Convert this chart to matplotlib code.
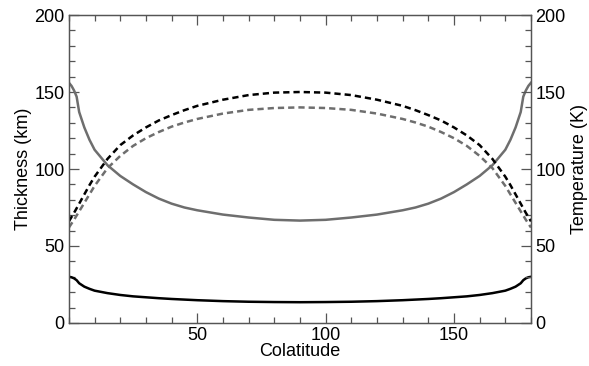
import matplotlib
matplotlib.use('Agg')
import matplotlib.pyplot as plt
from matplotlib.ticker import MultipleLocator

plt.rcParams['font.family'] = ['Liberation Sans', 'DejaVu Sans']

# colatitude samples (deg)
colat = [0, 1, 2, 3, 4, 6, 8, 10, 15, 20, 25, 30, 35, 40, 45, 50, 60, 70, 80, 90,
         100, 110, 120, 130, 135, 140, 145, 150, 155, 160, 165, 170, 172, 174, 176, 177, 178, 179, 180]

# thickness (km)
thick_gray = [156, 154, 151, 147, 137, 127, 119, 112.5, 102.5, 95.5, 90, 85, 80.8, 77.5, 75, 73.2, 70.4, 68.5, 67, 66.5,
              67, 68.5, 70.4, 73.2, 75, 77.5, 80.8, 85, 90, 95.5, 102.5, 112.5, 119, 127, 137, 147, 151, 154, 156]
thick_black = [30, 29.7, 29, 27.8, 25.8, 23.6, 22.2, 21, 19.4, 18.2, 17.3, 16.7, 16.1, 15.6, 15.2, 14.8, 14.2, 13.8, 13.6, 13.5,
               13.6, 13.8, 14.2, 14.8, 15.2, 15.6, 16.1, 16.7, 17.3, 18.2, 19.4, 21, 22.2, 23.6, 25.8, 27.8, 29, 29.7, 30]

# temperature (K)
temp_black = [66, 68.8, 71.5, 74.5, 77.5, 83.5, 89.5, 95, 106.5, 115.5, 121.8, 127, 131.5, 135, 138.2, 141, 145, 148, 149.6, 150,
              149.6, 148, 145, 141, 138.2, 135, 131.5, 127, 121.8, 115.5, 106.5, 95, 89.5, 83.5, 77.5, 74.5, 71.5, 68.8, 66]
temp_gray = [62, 64.5, 67, 69.8, 72.5, 78, 83.5, 89, 100.5, 108.5, 115, 120, 124, 127.5, 130.2, 132.5, 136, 138.4, 139.6, 140,
             139.6, 138.4, 136, 132.5, 130.2, 127.5, 124, 120, 115, 108.5, 100.5, 89, 83.5, 78, 72.5, 69.8, 67, 64.5, 62]

fig = plt.figure(figsize=(5.89, 3.66), dpi=100)
ax = fig.add_axes([0.117, 0.1175, 0.7845, 0.8415])

ax.plot(colat, thick_gray, '-', color='#6e6e6e', linewidth=1.8)
ax.plot(colat, thick_black, '-', color='black', linewidth=1.8)

ax2 = ax.twinx()
ax2.plot(colat, temp_black, '--', color='black', linewidth=1.8, dashes=(2.5, 1.6))
ax2.plot(colat, temp_gray, '--', color='#6e6e6e', linewidth=1.8, dashes=(2.5, 1.6))

for a in (ax, ax2):
    a.set_xlim(0, 180)
    a.set_ylim(0, 200)
    a.yaxis.set_major_locator(MultipleLocator(50))
    a.yaxis.set_minor_locator(MultipleLocator(10))
    for s in a.spines.values():
        s.set_color('#555555')
        s.set_linewidth(0.9)

ax.xaxis.set_minor_locator(MultipleLocator(10))
ax.set_xticks([50, 100, 150])

ax.tick_params(which='both', direction='in', top=True, right=False, colors='#555555',
               labelcolor='black', labelsize=13, width=0.9, pad=3)
ax.tick_params(which='major', length=7)
ax.tick_params(which='minor', length=4)
ax2.tick_params(which='both', direction='in', colors='#555555', labelcolor='black',
                labelsize=13, width=0.9, pad=3)
ax2.tick_params(which='major', length=7)
ax2.tick_params(which='minor', length=4)

ax.set_yticks([0, 50, 100, 150, 200])
ax2.set_yticks([0, 50, 100, 150, 200])

ax.set_xlabel('Colatitude', fontsize=13, labelpad=-1)
ax.set_ylabel('Thickness (km)', fontsize=13, labelpad=2)
ax2.set_ylabel('Temperature (K)', fontsize=13, labelpad=4)

fig.savefig('out.png', dpi=100)
